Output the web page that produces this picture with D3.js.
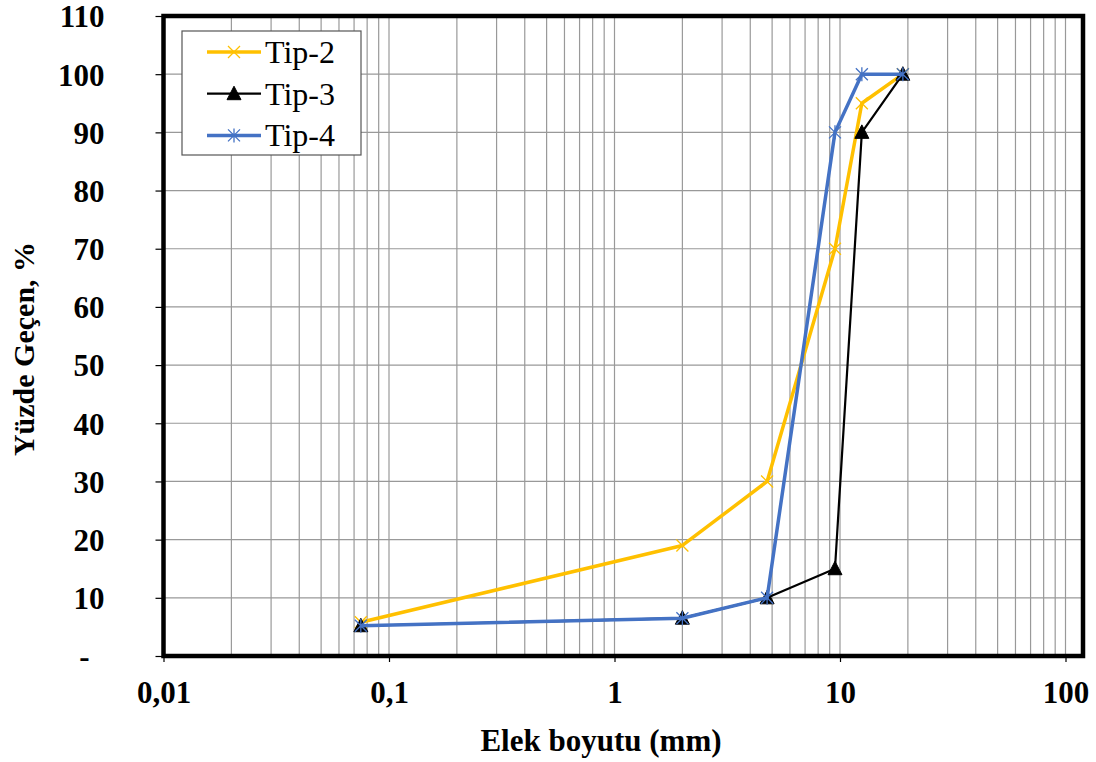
<!DOCTYPE html>
<html>
<head>
<meta charset="utf-8">
<script src="https://cdn.jsdelivr.net/npm/d3@7"></script>
<style>
  body { margin: 0; background: #fff; }
  text { font-family: "Liberation Serif", "Times New Roman", serif; }
</style>
</head>
<body>
<div id="chart"></div>
<script>
// Sieve sizes (mm) and percent passing
const sizes = [0.075, 2, 4.75, 9.5, 12.5, 19];
const tip2 = [5.8, 19, 30, 70, 95, 100];
const tip3 = [5.2, 6.5, 10, 15, 90, 100];
const tip4 = [5.2, 6.5, 10, 90, 100, 100];
const seriesNames = ["Tip-2", "Tip-3", "Tip-4"];
const xTickValues = [0.01, 0.1, 1, 10, 100];
const xTickLabels = ["0,01", "0,1", "1", "10", "100"];
const yTickValues = [0, 10, 20, 30, 40, 50, 60, 70, 80, 90, 100, 110];

// SVG dimensions
const w = 1096;
const h = 762;
const plotLeft = 163.5;
const plotRight = 1083;
const plotTop = 16;
const plotBottom = 656;
const serif = "'Liberation Serif', 'Times New Roman', serif";

const xScale = d3.scaleLog()
    .domain([0.01, Math.pow(10, 2 + (plotRight - 1065.5) / 225.5)])
    .range([plotLeft, plotRight]);

const yScale = d3.scaleLinear()
    .domain([0, 110])
    .range([plotBottom, plotTop]);

const svg = d3.select("#chart")
    .append("svg")
    .attr("width", w)
    .attr("height", h);

// Grid lines: every 1..9 in each decade
const gridX = [];
for (let e = -2; e <= 2; e++) {
    for (let m = 1; m <= 9; m++) {
        const v = m * Math.pow(10, e);
        if (v > 0.01 && v <= xScale.domain()[1]) gridX.push(v);
    }
}

svg.append("g")
    .selectAll("line")
    .data(gridX)
    .enter()
    .append("line")
    .attr("x1", d => xScale(d))
    .attr("x2", d => xScale(d))
    .attr("y1", plotTop)
    .attr("y2", plotBottom)
    .attr("stroke", "#999")
    .attr("stroke-width", 1.2);

svg.append("g")
    .selectAll("line")
    .data(yTickValues.slice(1))
    .enter()
    .append("line")
    .attr("x1", plotLeft)
    .attr("x2", plotRight)
    .attr("y1", d => yScale(d))
    .attr("y2", d => yScale(d))
    .attr("stroke", "#999")
    .attr("stroke-width", 1.2);

// Axes
const xAxis = d3.axisBottom(xScale)
    .tickValues(xTickValues)
    .tickSize(6)
    .tickFormat((d, i) => xTickLabels[i]);

const yAxis = d3.axisLeft(yScale)
    .tickValues(yTickValues)
    .tickSize(8)
    .tickFormat(d => d === 0 ? "-" : d);

const gx = svg.append("g")
    .attr("transform", "translate(0," + plotBottom + ")")
    .call(xAxis);
gx.select(".domain").remove();
gx.selectAll("line").attr("stroke", "#000").attr("stroke-width", 1.2);
gx.selectAll("text")
    .attr("dy", "0")
    .attr("y", 47)
    .style("font-size", "31px")
    .style("font-weight", "bold")
    .style("font-family", serif)
    .attr("fill", "#000");

const gy = svg.append("g")
    .attr("transform", "translate(" + plotLeft + ",0)")
    .call(yAxis);
gy.select(".domain").remove();
gy.selectAll("line").attr("stroke", "#000").attr("stroke-width", 1.2);
gy.selectAll("text")
    .attr("x", d => d === 0 ? -79 : -59)
    .attr("text-anchor", d => d === 0 ? "middle" : "end")
    .attr("dy", "0.35em")
    .style("font-size", "31px")
    .style("font-weight", "bold")
    .style("font-family", serif)
    .attr("fill", "#000");

// Series
const series = [
    { name: seriesNames[0], values: tip2, color: "#FFC000", width: 3.5, marker: "x" },
    { name: seriesNames[1], values: tip3, color: "#000000", width: 2.2, marker: "triangle" },
    { name: seriesNames[2], values: tip4, color: "#4472C4", width: 3.5, marker: "star" }
];

const line = d3.line()
    .x(d => xScale(d[0]))
    .y(d => yScale(d[1]));

function drawMarker(g, type, color, x, y) {
    if (type === "x") {
        g.append("path")
            .attr("d", "M" + (x - 6) + "," + (y - 6) + "L" + (x + 6) + "," + (y + 6) +
                "M" + (x - 6) + "," + (y + 6) + "L" + (x + 6) + "," + (y - 6))
            .attr("stroke", color)
            .attr("stroke-width", 1.3)
            .attr("fill", "none");
    } else if (type === "triangle") {
        g.append("path")
            .attr("d", "M" + x + "," + (y - 7.5) + "L" + (x + 7) + "," + (y + 6) + "L" + (x - 7) + "," + (y + 6) + "Z")
            .attr("fill", color)
            .attr("stroke", color)
            .attr("stroke-width", 1);
    } else if (type === "star") {
        g.append("path")
            .attr("d", "M" + (x - 6) + "," + (y - 6) + "L" + (x + 6) + "," + (y + 6) +
                "M" + (x - 6) + "," + (y + 6) + "L" + (x + 6) + "," + (y - 6) +
                "M" + x + "," + (y - 7) + "L" + x + "," + (y + 7))
            .attr("stroke", color)
            .attr("stroke-width", 1.3)
            .attr("fill", "none");
    }
}

series.forEach(s => {
    const pts = sizes.map((x, i) => [x, s.values[i]]);
    const g = svg.append("g");
    g.append("path")
        .datum(pts)
        .attr("fill", "none")
        .attr("stroke", s.color)
        .attr("stroke-width", s.width)
        .attr("stroke-linejoin", "round")
        .attr("d", line);
    pts.forEach(p => drawMarker(g, s.marker, s.color, xScale(p[0]), yScale(p[1])));
});

// Plot frame
svg.append("rect")
    .attr("x", plotLeft)
    .attr("y", plotTop)
    .attr("width", plotRight - plotLeft)
    .attr("height", plotBottom - plotTop)
    .attr("fill", "none")
    .attr("stroke", "#000")
    .attr("stroke-width", 4.5);

// Legend
const legend = svg.append("g");
legend.append("rect")
    .attr("x", 182)
    .attr("y", 31)
    .attr("width", 179)
    .attr("height", 124)
    .attr("fill", "#fff")
    .attr("stroke", "#555")
    .attr("stroke-width", 1.2);

series.forEach((s, i) => {
    const y = 52 + i * 41.7;
    legend.append("line")
        .attr("x1", 207)
        .attr("x2", 261)
        .attr("y1", y)
        .attr("y2", y)
        .attr("stroke", s.color)
        .attr("stroke-width", s.width);
    drawMarker(legend, s.marker, s.color, 234, y);
    legend.append("text")
        .attr("x", 265)
        .attr("y", y + 11)
        .style("font-size", "32px")
        .style("font-family", serif)
        .attr("fill", "#000")
        .text(s.name);
});

// Axis titles
svg.append("text")
    .attr("x", 601)
    .attr("y", 751)
    .attr("text-anchor", "middle")
    .style("font-size", "31px")
    .style("font-weight", "bold")
    .style("font-family", serif)
    .text("Elek boyutu (mm)");

svg.append("text")
    .attr("transform", "translate(34,349) rotate(-90)")
    .attr("text-anchor", "middle")
    .style("font-size", "30px")
    .style("font-weight", "bold")
    .style("font-family", serif)
    .text("Yüzde Geçen, %");
</script>
</body>
</html>
